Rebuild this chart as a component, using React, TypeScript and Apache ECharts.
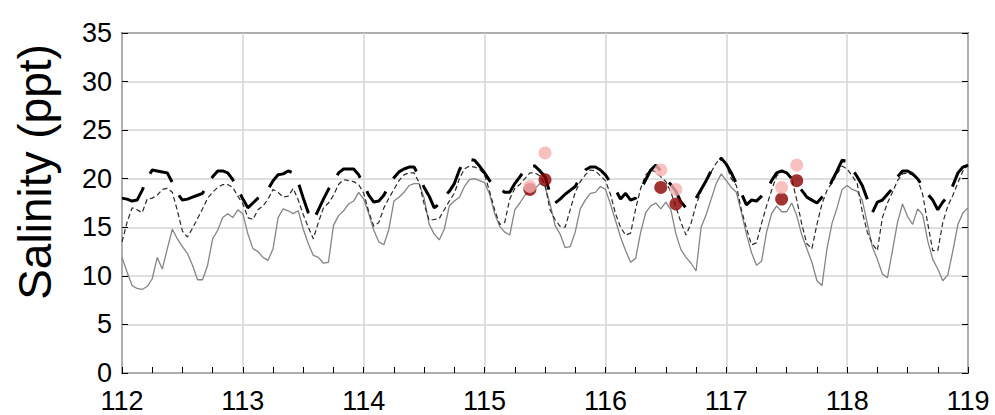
import React, { useEffect, useRef } from "react";
import * as echarts from "echarts";

// Time axis: hourly samples from day 112 to day 119
const START_DAY = 112;
const HOURS_PER_DAY = 24;

// Solid grey line (hourly values)
const solidGray = [
  11.9, 10.4, 9.0, 8.7, 8.6, 8.9, 9.7, 11.9, 10.7, 12.8, 14.8, 13.8,
  13.0, 12.3, 11.1, 9.6, 9.6, 11.1, 13.8, 14.7, 16.0, 16.4, 16.0, 16.8,
  16.4, 14.3, 12.8, 12.5, 11.9, 11.6, 12.8, 16.0, 16.9, 16.7, 16.4, 16.7,
  14.8, 13.3, 12.1, 11.9, 11.3, 11.4, 15.2, 16.2, 16.7, 17.4, 17.7, 18.6,
  17.9, 16.4, 14.7, 13.5, 13.2, 14.8, 17.7, 18.1, 18.6, 19.3, 19.5, 19.5,
  18.0, 15.3, 14.3, 13.7, 14.8, 17.2, 17.7, 18.1, 19.2, 19.9, 20.0, 19.8,
  19.6, 18.4, 16.4, 15.1, 14.5, 14.2, 16.8, 17.5, 18.3, 18.7, 19.0, 19.5,
  19.2, 17.4, 15.2, 14.3, 12.9, 13.0, 14.5, 16.9, 17.8, 18.5, 18.6, 19.2,
  18.9, 17.4, 15.7, 14.0, 12.6, 11.4, 11.8, 14.5, 16.5, 17.2, 17.5, 16.9,
  17.6, 16.8, 14.3, 12.7, 11.9, 11.3, 10.5, 15.0, 16.3, 17.9, 19.5, 20.5,
  19.8, 19.1, 18.6, 16.5, 14.3, 12.4, 11.1, 11.5, 14.5, 16.4, 17.2, 16.6,
  16.6, 17.5, 16.2, 14.2, 12.8, 11.4, 9.5, 9.0, 12.8, 15.4, 17.0, 18.9,
  19.3, 18.9, 18.7, 17.8, 15.4, 13.0, 11.7, 10.2, 9.8, 12.6, 15.5, 17.4,
  16.1, 15.3, 16.9, 16.3, 13.6, 11.7, 10.7, 9.5, 10.1, 12.6, 15.3, 16.5,
  17.0,
];

// Thin short-dashed dark grey line (hourly values)
const dashedGray = [
  13.5, 15.5, 17.0, 16.8, 16.5, 17.9, 18.0, 18.3, 18.9, 19.0, 18.6, 16.7,
  14.6, 14.0, 14.9, 15.9, 16.9, 18.0, 18.6, 19.1, 19.4, 19.4, 19.1, 18.2,
  17.4, 16.0, 15.8, 16.8, 17.2, 17.9, 18.9, 18.6, 18.1, 18.2, 19.0, 17.8,
  16.3, 15.0, 13.8, 15.5, 17.0, 17.5, 18.3, 19.4, 19.9, 19.8, 19.7, 19.4,
  18.5, 16.6, 15.1, 15.5, 17.0, 18.0, 18.9, 19.8, 20.4, 20.6, 20.6, 19.6,
  17.4, 15.7, 15.8, 15.9, 16.8, 17.7, 18.5, 20.0, 21.0, 21.3, 21.2, 21.0,
  20.4, 18.7, 16.8, 15.3, 15.5, 17.9, 19.0, 19.4, 20.0, 20.6, 20.6, 20.3,
  19.4, 16.8, 15.8, 15.1, 15.0, 16.8, 18.6, 19.7, 20.4, 20.9, 20.8, 20.3,
  19.8, 18.4, 16.4, 15.0, 14.2, 14.4, 16.9, 19.0, 20.4, 20.9, 20.7, 20.2,
  19.7, 18.6, 17.1, 15.5, 14.2, 15.4, 17.3, 18.7, 19.9, 20.7, 21.6, 22.2,
  21.4, 20.0, 19.3, 16.8, 14.9, 13.2, 13.4, 15.4, 17.2, 18.8, 20.3, 20.7,
  20.6, 20.0, 17.8, 15.3, 13.3, 12.8, 15.3, 17.4, 18.8, 19.6, 20.5, 21.3,
  21.0, 20.3, 19.5, 16.6, 14.5, 13.3, 12.6, 16.0, 17.5, 18.6, 19.8, 20.5,
  20.6, 20.4, 19.9, 18.4, 15.4, 12.6, 12.6, 15.5, 17.2, 18.3, 19.6, 20.8,
  21.4,
];

// Thick long-dashed black line (hourly values)
const blackDashed = [
  18.0, 17.9, 17.7, 17.8, 18.8, 20.0, 20.9, 20.8, 20.7, 20.6, 19.6, 18.5,
  17.8, 17.9, 18.1, 18.3, 18.5, 19.4, 20.2, 20.8, 20.8, 20.6, 19.9, 18.9,
  17.9, 17.0, 17.5, 18.0, 18.4, 18.9, 19.8, 20.4, 20.5, 20.8, 20.6, 19.6,
  18.0, 16.5, 15.7, 16.8, 17.9, 18.9, 19.7, 20.6, 21.0, 21.0, 21.0, 20.4,
  19.4, 18.3, 17.6, 17.7, 18.3, 19.3, 20.1, 20.7, 21.0, 21.2, 21.2, 20.2,
  19.1, 18.2, 17.0, 17.4, 18.2, 18.7, 19.5, 20.9, 21.9, 22.0, 21.9, 21.3,
  20.6, 19.8, 19.3, 19.0, 18.6, 18.6, 19.5, 20.2, 20.9, 21.4, 21.3, 20.8,
  20.2, 18.5, 17.5, 17.9, 18.4, 18.8, 19.2, 20.1, 20.9, 21.2, 21.2, 20.9,
  20.4, 19.6, 18.9, 17.9, 18.5, 17.8, 18.0, 18.9, 19.9, 20.9, 21.4, 20.8,
  19.9, 19.4, 18.7, 17.6, 17.0, 17.4, 18.0, 18.9, 19.8, 20.8, 21.5, 22.1,
  21.5, 20.6, 19.5, 18.5, 17.3, 17.8, 17.7, 18.2, 18.8, 19.8, 20.6, 20.8,
  20.6, 20.0, 19.4, 18.8, 18.1, 17.8, 17.5, 18.1, 18.6, 19.8, 20.8, 21.9,
  21.8, 21.0, 20.2, 19.3, 17.9, 16.5, 17.6, 17.8, 18.4, 19.0, 20.2, 20.8,
  20.8, 20.5, 20.0, 19.2, 18.4, 17.8, 16.8, 17.6, 18.2, 19.3, 20.6, 21.2,
  21.4,
];

// Point observations
const obsDays = [115.375, 115.5, 116.458, 116.583, 117.458, 117.583];
const obsDarkRed = [18.9, 19.9, 19.1, 17.4, 17.9, 19.8];
const obsPink = [19.2, 22.65, 20.9, 18.9, 19.1, 21.4];

// Axis settings
const X_MIN = 112;
const X_MAX = 119;
const Y_MIN = 0;
const Y_MAX = 35;
const Y_STEP = 5;
const Y_TITLE = "Salinity (ppt)";

const FONT = "'Liberation Sans', Arial, Helvetica, sans-serif";

const toPairs = (vals: number[]) =>
  vals.map((v, i) => [START_DAY + i / HOURS_PER_DAY, v]);

export default function App() {
  const ref = useRef<HTMLDivElement>(null);

  useEffect(() => {
    if (!ref.current) return;
    const chart = echarts.init(ref.current, undefined, { renderer: "svg" });

    const gridColor = "#d4d4d4";

    chart.setOption({
      animation: false,
      backgroundColor: "#ffffff",
      grid: {
        left: 122,
        right: 27,
        top: 33,
        bottom: 42,
        show: true,
        borderColor: "#000",
        borderWidth: 1.5,
        backgroundColor: "transparent",
      },
      graphic: [
        {
          type: "text",
          x: 35,
          y: 172,
          rotation: Math.PI / 2,
          style: {
            text: Y_TITLE,
            fontSize: 46,
            fontFamily: FONT,
            fill: "#000",
            textAlign: "center",
            textVerticalAlign: "middle",
            align: "center",
            verticalAlign: "middle",
          },
        },
      ],
      xAxis: [
        {
          type: "value",
          min: X_MIN,
          max: X_MAX,
          interval: 1,
          position: "bottom",
          axisLine: { show: false },
          axisTick: { show: false },
          axisLabel: {
            fontSize: 27,
            color: "#000",
            fontFamily: FONT,
            margin: 14,
          },
          splitLine: { show: true, lineStyle: { color: gridColor, width: 1.5 } },
        },
        {
          type: "value",
          min: X_MIN,
          max: X_MAX,
          interval: 0.25,
          position: "bottom",
          axisLine: { show: false },
          axisTick: {
            show: true,
            inside: true,
            length: 6,
            lineStyle: { color: "#000", width: 1 },
          },
          axisLabel: { show: false },
          splitLine: { show: false },
        },
      ],
      yAxis: [
        {
          type: "value",
          min: Y_MIN,
          max: Y_MAX,
          interval: Y_STEP,
          position: "left",
          axisLine: { show: false },
          axisTick: {
            show: true,
            inside: true,
            length: 6,
            lineStyle: { color: "#000", width: 1 },
          },
          axisLabel: {
            fontSize: 27,
            color: "#000",
            fontFamily: FONT,
            margin: 10,
          },
          splitLine: { show: true, lineStyle: { color: gridColor, width: 1.5 } },
        },
        {
          type: "value",
          min: Y_MIN,
          max: Y_MAX,
          interval: Y_STEP,
          position: "right",
          axisLine: { show: false },
          axisTick: {
            show: true,
            inside: true,
            length: 6,
            lineStyle: { color: "#000", width: 1 },
          },
          axisLabel: { show: false },
          splitLine: { show: false },
        },
      ],
      series: [
        {
          type: "line",
          data: toPairs(solidGray),
          symbol: "none",
          lineStyle: { color: "#858585", width: 1.3 },
          z: 2,
        },
        {
          type: "line",
          data: toPairs(dashedGray),
          symbol: "none",
          lineStyle: { color: "#2a2a2a", width: 1.2, type: [5, 3] },
          z: 3,
        },
        {
          type: "line",
          data: toPairs(blackDashed),
          symbol: "none",
          lineStyle: { color: "#000000", width: 3, type: [30, 15] },
          z: 4,
        },
        {
          type: "scatter",
          data: obsDays.map((d, i) => [d, obsDarkRed[i]]),
          symbol: "circle",
          symbolSize: 13,
          itemStyle: { color: "#8b0000" },
          z: 5,
        },
        {
          type: "scatter",
          data: obsDays.map((d, i) => [d, obsPink[i]]),
          symbol: "circle",
          symbolSize: 13,
          itemStyle: { color: "#f8b0b0" },
          z: 6,
        },
      ],
    });

    return () => chart.dispose();
  }, []);

  return (
    <div
      ref={ref}
      style={{ position: "fixed", left: 0, top: 0, width: 995, height: 415 }}
    />
  );
}
